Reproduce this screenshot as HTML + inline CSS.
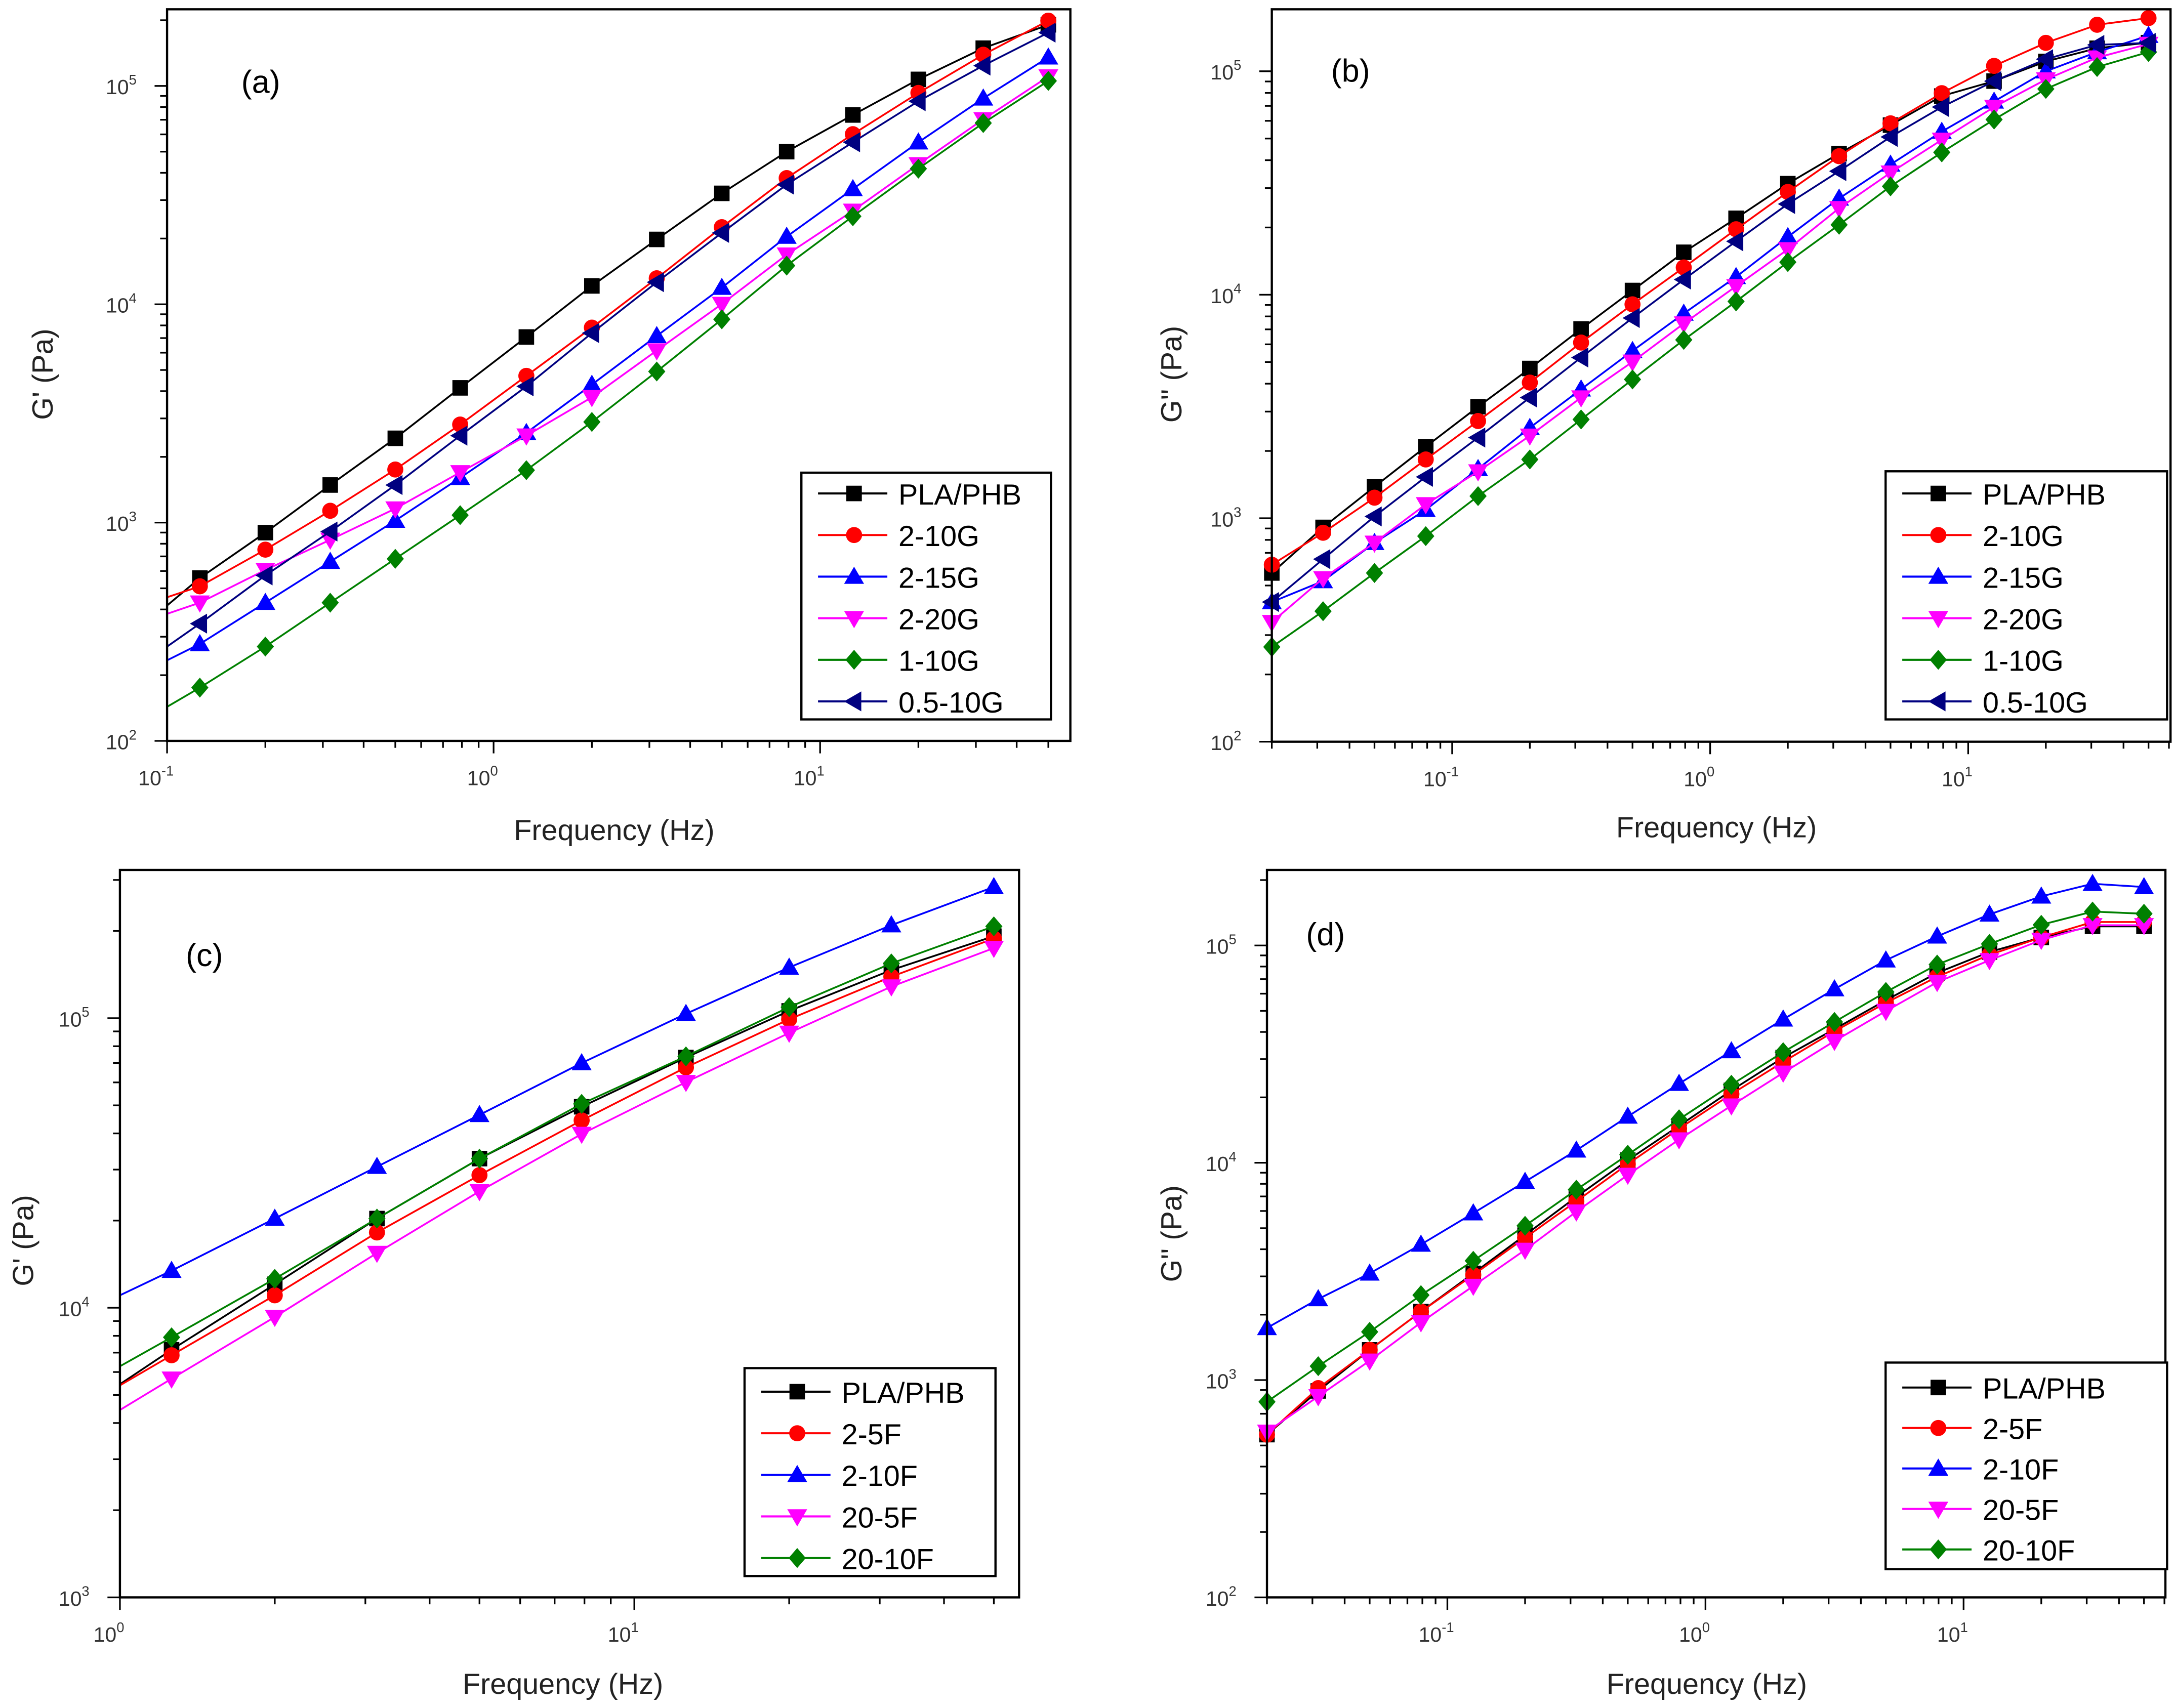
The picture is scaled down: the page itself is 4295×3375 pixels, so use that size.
<!DOCTYPE html>
<html><head><meta charset="utf-8"><style>
html,body{margin:0;padding:0;background:#fff;}
svg{display:block;}
text{font-family:"Liberation Sans","DejaVu Sans",sans-serif;}
</style></head>
<body>
<svg id="fig" xmlns="http://www.w3.org/2000/svg" width="4295" height="3375" viewBox="0 0 1568 1232.2" preserveAspectRatio="none"></svg>
<script>
// ---------- DATA (log10 of modulus in Pa) ----------
const namesG = ["PLA/PHB","2-10G","2-15G","2-20G","1-10G","0.5-10G"];
const namesF = ["PLA/PHB","2-5F","2-10F","20-5F","20-10F"];
// panel a: frequencies (Hz), first is the axis start (no marker)
const freqA = [0.1,0.126,0.2,0.316,0.5,0.79,1.26,2,3.16,5,7.9,12.6,20,31.6,50];
const aBlack  = [2.62,2.746,2.954,3.172,3.386,3.617,3.850,4.084,4.297,4.508,4.699,4.867,5.030,5.173,5.28];
const aRed    = [2.658,2.708,2.876,3.054,3.243,3.449,3.672,3.893,4.119,4.353,4.578,4.779,4.968,5.143,5.299];
const aBlue   = [2.369,2.444,2.633,2.821,3.009,3.205,3.411,3.632,3.855,4.076,4.310,4.528,4.742,4.943,5.131];
const aMag    = [2.582,2.633,2.783,2.921,3.064,3.230,3.398,3.574,3.788,4.001,4.227,4.428,4.641,4.847,5.043];
const aGreen  = [2.156,2.244,2.432,2.633,2.834,3.034,3.240,3.461,3.692,3.931,4.177,4.403,4.621,4.830,5.023];
const aNavy   = [2.432,2.537,2.758,2.959,3.172,3.398,3.624,3.868,4.101,4.327,4.548,4.742,4.930,5.093,5.244];
// panel b: frequencies (Hz)
const freqB = [0.02,0.0316,0.05,0.079,0.126,0.2,0.316,0.5,0.79,1.26,2,3.16,5,7.9,12.6,20,31.6,50];
const bBlack  = [2.755,2.959,3.141,3.320,3.499,3.670,3.847,4.019,4.190,4.342,4.497,4.632,4.759,4.889,4.956,5.044,5.103,5.128];
const bRed    = [2.792,2.935,3.092,3.263,3.435,3.607,3.786,3.957,4.122,4.293,4.460,4.620,4.767,4.902,5.024,5.127,5.208,5.238];
const bBlue   = [2.625,2.719,2.890,3.038,3.221,3.405,3.577,3.749,3.916,4.080,4.259,4.431,4.583,4.730,4.865,5.000,5.086,5.159];
const bMag    = [2.535,2.731,2.890,3.062,3.209,3.369,3.540,3.700,3.871,4.038,4.203,4.387,4.546,4.693,4.840,4.963,5.061,5.122];
const bGreen  = [2.424,2.584,2.755,2.920,3.099,3.263,3.442,3.621,3.798,3.970,4.146,4.313,4.485,4.637,4.784,4.921,5.019,5.086];
const bNavy   = [2.625,2.817,3.008,3.185,3.361,3.540,3.719,3.896,4.068,4.239,4.406,4.553,4.706,4.840,4.956,5.054,5.118,5.127];
// panel c: frequencies (Hz), first is axis start (no marker)
const freqC = [1,1.26,2,3.16,5,7.9,12.6,20,31.6,50];
const cBlack  = [3.736,3.855,4.081,4.308,4.515,4.694,4.864,5.025,5.166,5.283];
const cRed    = [3.732,3.836,4.043,4.260,4.458,4.647,4.830,4.996,5.143,5.275];
const cBlue   = [4.043,4.128,4.308,4.487,4.666,4.845,5.015,5.175,5.321,5.453];
const cMag    = [3.647,3.755,3.968,4.189,4.402,4.600,4.779,4.949,5.109,5.242];
const cGreen  = [3.798,3.898,4.100,4.308,4.515,4.704,4.868,5.038,5.189,5.317];
// panel d
const freqD = [0.02,0.0316,0.05,0.079,0.126,0.2,0.316,0.5,0.79,1.26,2,3.16,5,7.9,12.6,20,31.6,50];
const dBlack  = [2.749,2.950,3.139,3.315,3.491,3.667,3.843,4.012,4.170,4.333,4.484,4.615,4.748,4.874,4.970,5.037,5.088,5.088];
const dRed    = [2.749,2.963,3.139,3.315,3.484,3.655,3.823,3.994,4.157,4.316,4.464,4.605,4.736,4.856,4.957,5.037,5.108,5.108];
const dBlue   = [3.240,3.373,3.491,3.624,3.768,3.913,4.057,4.213,4.364,4.514,4.660,4.799,4.932,5.042,5.143,5.226,5.284,5.269];
const dMag    = [2.762,2.925,3.089,3.265,3.433,3.599,3.775,3.944,4.107,4.263,4.414,4.560,4.698,4.831,4.932,5.025,5.093,5.093];
const dGreen  = [2.900,3.064,3.222,3.391,3.549,3.710,3.876,4.037,4.200,4.359,4.509,4.648,4.786,4.912,5.007,5.095,5.156,5.146];
const xTicksAB = [-1,0,1];
const xTicksC = [0,1];
const yTicksABD = [2,3,4,5];
const yTicksC = [3,4,5];

const NS="http://www.w3.org/2000/svg";
const svg=document.getElementById('fig');
function mk(tag,attrs,parent){const e=document.createElementNS(NS,tag);for(const k in attrs)e.setAttribute(k,attrs[k]);(parent||svg).appendChild(e);return e;}
const C={black:"#000000",red:"#ff0000",blue:"#0000ff",mag:"#ff00ff",green:"#008000",navy:"#000080"};

function marker(g,type,x,y,col){
  const s=6.2;let el;
  if(type==="square")el=mk('rect',{x:x-s+0.6,y:y-s+0.6,width:2*s-1.2,height:2*s-1.2,fill:col},g);
  else if(type==="circle")el=mk('circle',{cx:x,cy:y,r:s-0.4,fill:col},g);
  else{let p;
    if(type==="up")p=[[x,y-s-1],[x-s-1,y+s-1],[x+s+1,y+s-1]];
    else if(type==="down")p=[[x,y+s+1],[x-s-1,y-s+1],[x+s+1,y-s+1]];
    else if(type==="diamond")p=[[x,y-s-1],[x+s,y],[x,y+s+1],[x-s,y]];
    else p=[[x-s-1,y],[x+s-1,y-s-1],[x+s-1,y+s+1]];
    el=mk('polygon',{points:p.map(q=>q.join(',')).join(' '),fill:col},g);}
  
  
}

function panel(cfg){
  const g=mk('g',{});
  
  
  const {L,R,T,B,xl0,xl1,yl0,yl1}=cfg;
  const X=v=>L+(Math.log10(v)-xl0)/(xl1-xl0)*(R-L);
  const Y=l=>B-(l-yl0)/(yl1-yl0)*(B-T);
  // ticks
  const tg=mk('g',{stroke:"#000","stroke-width":1.2},g);
  
  
  for(let d=Math.floor(xl0);d<=Math.ceil(xl1);d++){for(let m=1;m<10;m++){const lv=d+Math.log10(m);if(lv<xl0-1e-6||lv>xl1+1e-6)continue;const x=L+(lv-xl0)/(xl1-xl0)*(R-L);mk('line',{x1:x,x2:x,y1:B,y2:B+(m===1?9:5)},tg);}}
  for(let d=Math.floor(yl0);d<=Math.ceil(yl1);d++){for(let m=1;m<10;m++){const lv=d+Math.log10(m);if(lv<yl0-1e-6||lv>yl1+1e-6)continue;const y=Y(lv);mk('line',{x1:L,x2:L-(m===1?9:5),y1:y,y2:y},tg);}}
  // tick labels
  cfg.xt.forEach(e=>{const x=L+(e-xl0)/(xl1-xl0)*(R-L);const t=mk('text',{x:x-8,y:B+32,"font-size":15,fill:"#333","text-anchor":"middle"},g);t.textContent="10";const s=mk('tspan',{dy:-7,"font-size":10},t);s.textContent=String(e);});
  cfg.yt.forEach(e=>{const y=Y(e);const t=mk('text',{x:L-22,y:y+6,"font-size":15,fill:"#333","text-anchor":"end"},g);t.textContent="10";const s=mk('tspan',{dy:-7,"font-size":10},t);s.textContent=String(e);});
  // series
  cfg.series.forEach((s,i)=>{
    const sg=mk('g',{},g);
    
    
    const pts=cfg.freq.map((f,k)=>[X(f),Y(s.v[k])]);
    mk('polyline',{points:pts.map(p=>p[0].toFixed(2)+','+p[1].toFixed(2)).join(' '),fill:"none",stroke:s.c,"stroke-width":1.3},sg);
    pts.forEach((p,k)=>{if(k<cfg.skip)return;marker(sg,s.m,p[0],p[1],s.c);});
  });
  // frame
  const fr=mk('rect',{x:L,y:T,width:R-L,height:B-T,fill:"none",stroke:"#000","stroke-width":1.6},g);
  
  // legend
  const lg=mk('g',{},g);
  
  const le=cfg.leg;
  mk('rect',{x:le.x,y:le.y,width:le.w,height:le.h,fill:"#fff",stroke:"#000","stroke-width":1.6},lg);
  cfg.series.forEach((s,i)=>{
    const eg=mk('g',{},lg);
    
    const y=le.y0+i*le.dy;
    mk('line',{x1:le.x+12,x2:le.x+62,y1:y,y2:y,stroke:s.c,"stroke-width":1.5},eg);
    marker(eg,s.m,le.x+38,y,s.c);
    const t=mk('text',{x:le.x+70,y:y+8,"font-size":21,fill:"#000"},eg);t.textContent=s.name;
  });
  // labels
  const pl=mk('text',{x:cfg.pl[0],y:cfg.pl[1],"font-size":23,"font-family":"Liberation Serif,serif",fill:"#000"},g);pl.textContent=cfg.plabel;
  
  const xt=mk('text',{x:cfg.xtp[0],y:cfg.xtp[1],"font-size":21,fill:"#222","text-anchor":"middle"},g);xt.textContent="Frequency (Hz)";
  
  const yt=mk('text',{x:0,y:0,"font-size":21,fill:"#222","text-anchor":"middle",transform:`translate(${cfg.ytp[0]},${cfg.ytp[1]}) rotate(-90)`},g);yt.textContent=cfg.ytitle;
  
}

panel({id:"panel-a",L:120.5,R:772,T:6.7,B:534.5,xl0:-1,xl1:-1+(772-120.5)/235.5,yl0:2,yl1:5+(62-6.7)/157.5,
  freq:freqA,skip:1,xt:xTicksAB,yt:yTicksABD,plabel:"(a)",pl:[174,67],xtp:[443,606],ytp:[38,270],ytitle:"G' (Pa)",
  leg:{x:578,y:341,w:180,h:178,y0:356,dy:30},
  series:[{name:namesG[0],v:aBlack,c:C.black,m:"square"},{name:namesG[1],v:aRed,c:C.red,m:"circle"},{name:namesG[2],v:aBlue,c:C.blue,m:"up"},{name:namesG[3],v:aMag,c:C.mag,m:"down"},{name:namesG[4],v:aGreen,c:C.green,m:"diamond"},{name:namesG[5],v:aNavy,c:C.navy,m:"left"}]});
panel({id:"panel-b",L:917.3,R:1565.5,T:6.7,B:535.1,xl0:Math.log10(0.02),xl1:1+(1565.5-1419.7)/185.9,yl0:2,yl1:5+(51.4-6.7)/161.2,
  freq:freqB,skip:0,xt:xTicksAB,yt:yTicksABD,plabel:"(b)",pl:[960,59],xtp:[1238,604],ytp:[852,270],ytitle:"G'' (Pa)",
  leg:{x:1360,y:340,w:203,h:179,y0:356,dy:30},
  series:[{name:namesG[0],v:bBlack,c:C.black,m:"square"},{name:namesG[1],v:bRed,c:C.red,m:"circle"},{name:namesG[2],v:bBlue,c:C.blue,m:"up"},{name:namesG[3],v:bMag,c:C.mag,m:"down"},{name:namesG[4],v:bGreen,c:C.green,m:"diamond"},{name:namesG[5],v:bNavy,c:C.navy,m:"left"}]});
panel({id:"panel-c",L:86.5,R:735,T:627.6,B:1152.4,xl0:0,xl1:(735-86.5)/371,yl0:3,yl1:5+(734.5-627.6)/208.9,
  freq:freqC,skip:1,xt:xTicksC,yt:yTicksC,plabel:"(c)",pl:[134,697],xtp:[406,1222],ytp:[24,895],ytitle:"G' (Pa)",
  leg:{x:537,y:987,w:181,h:150,y0:1004,dy:30},
  series:[{name:namesF[0],v:cBlack,c:C.black,m:"square"},{name:namesF[1],v:cRed,c:C.red,m:"circle"},{name:namesF[2],v:cBlue,c:C.blue,m:"up"},{name:namesF[3],v:cMag,c:C.mag,m:"down"},{name:namesF[4],v:cGreen,c:C.green,m:"diamond"}]});
panel({id:"panel-d",L:913.8,R:1561.8,T:627.6,B:1152.4,xl0:Math.log10(0.02),xl1:1+(1561.8-1416.2)/186.2,yl0:2,yl1:5+(682.1-627.6)/156.8,
  freq:freqD,skip:0,xt:xTicksAB,yt:yTicksABD,plabel:"(d)",pl:[942,682],xtp:[1231,1222],ytp:[852,890],ytitle:"G'' (Pa)",
  leg:{x:1360,y:983,w:203,h:149,y0:1001,dy:29.2},
  series:[{name:namesF[0],v:dBlack,c:C.black,m:"square"},{name:namesF[1],v:dRed,c:C.red,m:"circle"},{name:namesF[2],v:dBlue,c:C.blue,m:"up"},{name:namesF[3],v:dMag,c:C.mag,m:"down"},{name:namesF[4],v:dGreen,c:C.green,m:"diamond"}]});
</script>
</body></html>
